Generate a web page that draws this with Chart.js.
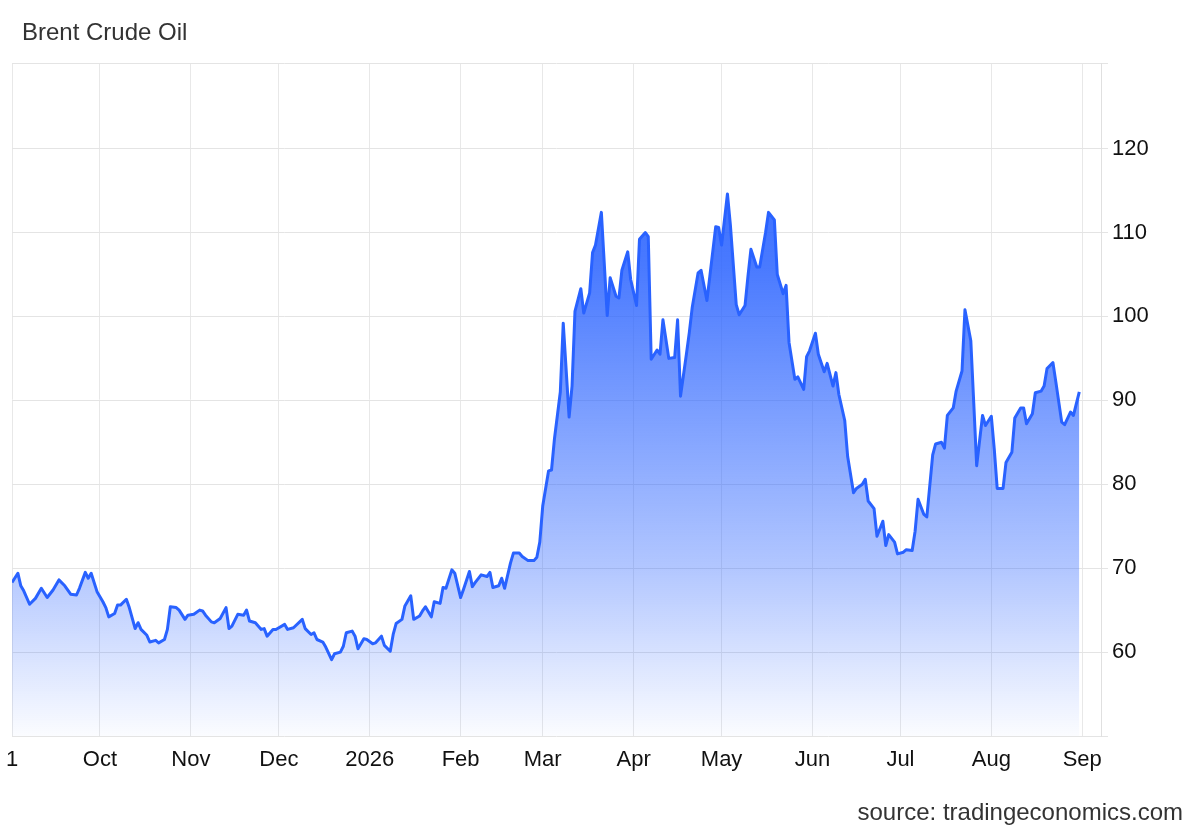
<!DOCTYPE html>
<html>
<head>
<meta charset="utf-8">
<script src="https://cdn.jsdelivr.net/npm/chart.js@4.4.1/dist/chart.umd.min.js"></script>
<style>
  html, body { margin: 0; padding: 0; background: #fff; }
  #wrap { position: relative; width: 1200px; height: 832px; font-family: "Liberation Sans", Arial, sans-serif; }
  #title { position: absolute; left: 22px; top: 20px; font-size: 24px; line-height: 24px; color: #333; }
  #source { position: absolute; right: 17px; top: 800px; font-size: 24px; line-height: 24px; color: #333; }
</style>
</head>
<body>
<div id="wrap">
  <canvas id="oilChart"></canvas>
  <div id="title">Brent Crude Oil</div>
  <div id="source">source: tradingeconomics.com</div>
</div>
<script>
// days since 1 Sep 2025
const days = [
  0, 2, 3, 4, 6, 8, 10, 12, 14, 16, 18, 20, 22, 23, 25, 26, 27, 29, 31, 32,
  33, 35, 36, 37, 39, 40, 42, 43, 44, 46, 47, 49, 50, 52, 53, 54, 56, 57, 59, 60,
  62, 64, 65, 66, 68, 69, 71, 73, 74, 75, 77, 79, 80, 81, 83, 85, 86, 87, 89, 90,
  93, 94, 96, 99, 100, 102, 103, 104, 106, 107, 109, 110, 112, 113, 114, 116, 117, 118, 120, 121,
  123, 124, 126, 127, 129, 130, 131, 133, 134, 136, 137, 139, 140, 141, 143, 144, 146, 147, 148, 150,
  151, 153, 154, 156, 157, 158, 160, 162, 163, 164, 166, 167, 168, 170, 171, 173, 174, 176, 178, 179,
  180, 181, 183, 184, 185, 187, 188, 190, 191, 192, 194, 195, 197, 198, 199, 201, 203, 204, 206, 207,
  208, 210, 211, 213, 214, 216, 217, 218, 220, 221, 222, 224, 226, 227, 228, 230, 231, 232, 234, 235,
  237, 238, 240, 241, 242, 244, 245, 247, 248, 250, 251, 252, 254, 255, 257, 258, 260, 261, 263, 264,
  265, 267, 268, 270, 271, 272, 274, 275, 277, 278, 280, 281, 282, 284, 285, 287, 288, 290, 291, 292,
  294, 295, 297, 298, 299, 301, 302, 304, 305, 307, 308, 309, 311, 312, 314, 315, 317, 318, 319, 321,
  322, 324, 325, 327, 328, 329, 331, 332, 334, 335, 336, 338, 339, 341, 342, 344, 345, 346, 348, 349,
  351, 352, 353, 355, 356, 358, 359, 361, 362, 364
];
const prices = [
  68.3, 69.4, 67.9, 67.3, 65.7, 66.4, 67.6, 66.5, 67.4, 68.6, 67.9, 66.9, 66.8, 67.6, 69.5, 68.8, 69.4, 67.2, 66.0, 65.3,
  64.2, 64.6, 65.6, 65.6, 66.3, 65.3, 62.8, 63.5, 62.7, 62.0, 61.2, 61.4, 61.1, 61.5, 62.7, 65.4, 65.3, 65.0, 63.9, 64.4,
  64.5, 65.0, 64.9, 64.4, 63.6, 63.5, 64.0, 65.3, 62.8, 63.1, 64.5, 64.4, 65.0, 63.7, 63.5, 62.7, 62.8, 61.9, 62.7, 62.7,
  63.3, 62.7, 62.9, 63.9, 62.8, 62.1, 62.3, 61.5, 61.2, 60.6, 59.1, 59.8, 60.0, 60.7, 62.3, 62.5, 61.9, 60.4, 61.6, 61.5,
  61.0, 61.1, 61.9, 60.8, 60.1, 62.1, 63.4, 63.9, 65.5, 66.7, 63.9, 64.3, 64.9, 65.4, 64.2, 66.0, 65.8, 67.7, 67.6, 69.8,
  69.4, 66.5, 67.5, 69.6, 67.8, 68.3, 69.2, 69.0, 69.5, 67.7, 67.9, 68.8, 67.6, 70.6, 71.8, 71.8, 71.4, 70.9, 70.9, 71.3,
  73.1, 77.4, 81.6, 81.7, 85.4, 91.0, 99.2, 88.0, 91.7, 100.6, 103.3, 100.4, 102.8, 107.6, 108.5, 112.4, 100.1, 104.6, 102.4, 102.2,
  105.5, 107.7, 104.4, 101.3, 109.2, 110.0, 109.5, 94.9, 96.0, 95.5, 99.6, 95.0, 95.1, 99.6, 90.5, 95.5, 98.1, 101.1, 105.2, 105.5,
  101.9, 104.8, 110.7, 110.6, 108.5, 114.6, 110.9, 101.4, 100.2, 101.3, 104.8, 108.0, 105.9, 105.9, 110.0, 112.4, 111.5, 105.0, 102.7, 103.7,
  96.9, 92.5, 92.8, 91.3, 95.2, 95.9, 98.0, 95.5, 93.4, 94.4, 91.7, 93.3, 90.7, 87.6, 83.3, 79.0, 79.5, 80.0, 80.6, 78.0,
  77.1, 73.8, 75.6, 72.7, 74.0, 73.1, 71.7, 71.9, 72.2, 72.1, 74.4, 78.2, 76.4, 76.1, 83.5, 84.8, 85.0, 84.3, 88.2, 89.1,
  91.1, 93.5, 100.8, 97.1, 89.7, 82.2, 88.2, 87.0, 88.1, 84.2, 79.5, 79.5, 82.6, 83.8, 87.9, 89.1, 89.1, 87.2, 88.4, 90.9,
  91.1, 91.7, 93.8, 94.5, 92.2, 87.4, 87.1, 88.6, 88.2, 91.0
];

// month starts (days since 1 Sep 2025) and their labels
const tickDays = [0, 30, 61, 91, 122, 153, 181, 212, 242, 273, 303, 334, 365];
const tickLabels = ['1', 'Oct', 'Nov', 'Dec', '2026', 'Feb', 'Mar', 'Apr', 'May', 'Jun', 'Jul', 'Aug', 'Sep'];

const yMin = 50;
const yMax = 130.2;
const yTicks = [60, 70, 80, 90, 100, 110, 120];

const ctx = document.getElementById('oilChart').getContext('2d');
new Chart(ctx, {
  type: 'line',
  data: {
    datasets: [{
      label: 'Brent',
      data: days.map((d, i) => ({ x: d, y: prices[i] })),
      borderColor: '#2962ff',
      borderWidth: 3,
      borderJoinStyle: 'round',
      tension: 0,
      pointRadius: 0,
      fill: 'start',
      backgroundColor: function(context) {
        const area = context.chart.chartArea;
        if (!area) return 'rgba(41, 98, 255, 0.4)';
        const g = context.chart.ctx.createLinearGradient(0, area.top, 0, area.bottom);
        g.addColorStop(0, 'rgba(41, 98, 255, 1)');
        g.addColorStop(0.3, 'rgba(41, 98, 255, 0.85)');
        g.addColorStop(0.75, 'rgba(41, 98, 255, 0.36)');
        g.addColorStop(1, 'rgba(41, 98, 255, 0.02)');
        return g;
      }
    }]
  },
  options: {
    responsive: true,
    maintainAspectRatio: false,
    animation: false,
    layout: { padding: { top: 63, left: 12, right: 0, bottom: 0 } },
    plugins: {
      legend: { display: false },
      tooltip: { enabled: false }
    },
    scales: {
      x: {
        type: 'linear',
        min: 0,
        max: 371.4,
        grid: { color: '#e8e8e8', drawTicks: false },
        border: { display: false },
        afterBuildTicks: function(scale) {
          scale.ticks = tickDays.map(v => ({ value: v }));
        },
        afterFit: function(scale) { scale.height = 96; },
        ticks: {
          color: '#111',
          font: { family: '"Liberation Sans", Arial, sans-serif', size: 22, lineHeight: 2.2 },
          padding: 0,
          autoSkip: false,
          maxRotation: 0,
          callback: function(value) {
            const i = tickDays.indexOf(value);
            return i >= 0 ? tickLabels[i] : '';
          }
        }
      },
      y: {
        position: 'right',
        min: yMin,
        max: yMax,
        grid: { color: '#e4e4e4', tickLength: 7 },
        border: { display: true, color: '#e0e0e0' },
        afterBuildTicks: function(scale) {
          scale.ticks = [yMin].concat(yTicks, [yMax]).map(v => ({ value: v }));
        },
        afterFit: function(scale) { scale.width = 99; },
        ticks: {
          color: '#111',
          font: { family: '"Liberation Sans", Arial, sans-serif', size: 22 },
          padding: 4,
          callback: function(value) {
            return yTicks.includes(value) ? String(value) : '';
          }
        }
      }
    }
  }
});
</script>
</body>
</html>
